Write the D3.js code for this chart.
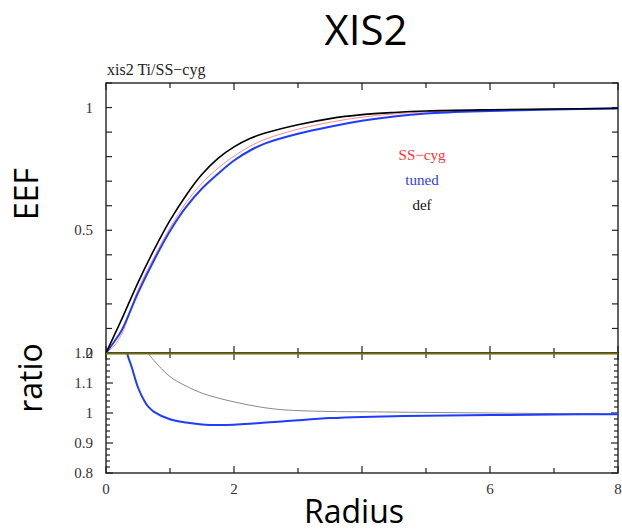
<!DOCTYPE html>
<html><head><meta charset="utf-8">
<script src="https://cdn.jsdelivr.net/npm/d3@7"></script>
<style>body{margin:0;background:#fff}svg{display:block}</style>
</head><body>
<svg id="c" width="622" height="532"></svg>
<script>
// ---- data ----
const radius   = [0,0.125,0.25,0.5,0.75,1,1.25,1.5,1.75,2,2.25,2.5,3,3.5,4,4.5,5,6,7,8];
const eefSSCyg = [0,0.028,0.08,0.258,0.39,0.51,0.612,0.692,0.753,0.802,0.842,0.872,0.912,0.94,0.961,0.974,0.982,0.99,0.993,0.996];
const eefTuned = [0,0.045,0.095,0.245,0.378,0.497,0.594,0.67,0.73,0.784,0.825,0.855,0.893,0.922,0.946,0.964,0.976,0.986,0.992,0.996];
const eefDef   = [0,0.07,0.14,0.287,0.42,0.54,0.642,0.728,0.793,0.84,0.874,0.897,0.93,0.955,0.971,0.98,0.986,0.991,0.994,0.997];
const ratioRadius = [0.25,0.33,0.4,0.5,0.6,0.66,0.75,1,1.25,1.5,1.75,2,2.25,2.5,2.75,3,3.5,4,5,6,7,8];
const ratioDef   = [1.6,1.45,1.38,1.29,1.23,1.2,1.175,1.121,1.09,1.066,1.05,1.037,1.026,1.017,1.011,1.008,1.005,1.004,1.002,1.0,0.998,0.997];
const ratioTuned = [1.35,1.2,1.154,1.085,1.04,1.021,1.004,0.979,0.968,0.962,0.96,0.961,0.964,0.968,0.972,0.976,0.983,0.987,0.991,0.993,0.995,0.996];
const xTickLabels = [0,2,6,8];
const eefTickLabels = [0.5,1];
const ratioTickLabels = [0.8,0.9,1,1.1,1.2];
const legendItems = ["SS\u2212cyg","tuned","def"];

// ---- layout ----
const svg = d3.select("#c");
const L = 106, R = 618, T = 83, M = 353, B = 473;
const x = d3.scaleLinear().domain([0,8]).range([L,R]);
const yE = d3.scaleLinear().domain([0,1.1]).range([M,T]);
const yR = d3.scaleLinear().domain([0.8,1.2]).range([B,M]);
const serif = "'Liberation Serif','DejaVu Serif',serif";
const sans = "'Open Sans','Noto Sans',sans-serif";

const defs = svg.append("defs");
defs.append("clipPath").attr("id","cu").append("rect").attr("x",L).attr("y",T).attr("width",R-L).attr("height",M-T);
defs.append("clipPath").attr("id","cl").append("rect").attr("x",L).attr("y",M).attr("width",R-L).attr("height",B-M);

// big slide labels
svg.append("text").attr("x",366).attr("y",45).attr("text-anchor","middle").attr("font-family",sans).attr("font-size",42).text("XIS2");
svg.append("text").attr("transform","translate(38,194) rotate(-90)").attr("text-anchor","middle").attr("font-family",sans).attr("font-size",32).text("EEF");
svg.append("text").attr("transform","translate(42,378) rotate(-90)").attr("text-anchor","middle").attr("font-family",sans).attr("font-size",32).text("ratio");
svg.append("text").attr("x",354).attr("y",523).attr("text-anchor","middle").attr("font-family",sans).attr("font-size",32).text("Radius");

// plot title
svg.append("text").attr("x",107).attr("y",75).attr("font-family",serif).attr("font-size",16).attr("fill","#222").text("xis2 Ti/SS\u2212cyg");

// ticks helper
const tk = svg.append("g").attr("stroke","#222").attr("stroke-width",1.2);
function vTicks(vals, scale, len){
  vals.forEach(v=>{
    const yy = scale(v);
    tk.append("line").attr("x1",L).attr("x2",L+len).attr("y1",yy).attr("y2",yy);
    tk.append("line").attr("x1",R).attr("x2",R-len).attr("y1",yy).attr("y2",yy);
  });
}
function hTicks(vals, yy, dir, len){
  vals.forEach(v=>{
    tk.append("line").attr("x1",x(v)).attr("x2",x(v)).attr("y1",yy).attr("y2",yy+dir*len);
  });
}
vTicks(d3.range(0,1.1001,0.1).map(v=>+v.toFixed(2)), yE, 6);
vTicks(d3.range(0.8,1.2001,0.02).map(v=>+v.toFixed(2)).filter(v=>Math.abs(v*10-Math.round(v*10))>1e-6), yR, 4);
vTicks([0.8,0.9,1,1.1,1.2], yR, 7);
const xMajor=[0,2,4,6,8], xMinor=[1,3,5,7];
hTicks(xMajor,T,1,7); hTicks(xMinor,T,1,5);
hTicks(xMajor,M,-1,7); hTicks(xMinor,M,-1,5);
hTicks(xMajor,M,1,7); hTicks(xMinor,M,1,5);
hTicks(xMajor,B,-1,7); hTicks(xMinor,B,-1,5);

// frames
svg.append("rect").attr("x",L).attr("y",T).attr("width",R-L).attr("height",M-T).attr("fill","none").attr("stroke","#222").attr("stroke-width",1.4);
svg.append("rect").attr("x",L).attr("y",M).attr("width",R-L).attr("height",B-M).attr("fill","none").attr("stroke","#222").attr("stroke-width",1.4);

// tick labels
const lab = svg.append("g").attr("font-family",serif).attr("font-size",15).attr("fill","#333");
eefTickLabels.forEach(v=>lab.append("text").attr("x",93).attr("y",yE(v)+5).attr("text-anchor","end").text(v));
lab.append("text").attr("x",93).attr("y",yE(0)+5).attr("text-anchor","end").text("0");
ratioTickLabels.forEach(v=>lab.append("text").attr("x",93).attr("y",yR(v)+5).attr("text-anchor","end").text(v.toFixed(v===1?0:1)));
xTickLabels.forEach(v=>lab.append("text").attr("x",x(v)).attr("y",494).attr("text-anchor","middle").text(v));

// curves
const lineE = d3.line().x(d=>x(d[0])).y(d=>yE(d[1])).curve(d3.curveCatmullRom.alpha(0.5));
const lineR = d3.line().x(d=>x(d[0])).y(d=>yR(d[1])).curve(d3.curveCatmullRom.alpha(0.5));
const up = svg.append("g").attr("clip-path","url(#cu)");
up.append("path").attr("d",lineE(d3.zip(radius,eefSSCyg))).attr("fill","none").attr("stroke","#ff8c8c").attr("stroke-width",1);
up.append("path").attr("d",lineE(d3.zip(radius,eefTuned))).attr("fill","none").attr("stroke","#1f3cff").attr("stroke-width",2);
up.append("path").attr("d",lineE(d3.zip(radius,eefDef))).attr("fill","none").attr("stroke","#000").attr("stroke-width",1.6);
const lo = svg.append("g").attr("clip-path","url(#cl)");
lo.append("path").attr("d",lineR(d3.zip(ratioRadius,ratioDef))).attr("fill","none").attr("stroke","#8a8a8a").attr("stroke-width",1);
lo.append("path").attr("d",lineR(d3.zip(ratioRadius,ratioTuned))).attr("fill","none").attr("stroke","#1f3cff").attr("stroke-width",2);
svg.append("line").attr("x1",L).attr("x2",R).attr("y1",M+0.5).attr("y2",M+0.5).attr("stroke","#6e6a10").attr("stroke-width",2);

// legend
const legColors = ["#ff3030","#2a3cff","#111"];
const legY = [160,185,210];
legendItems.forEach((t,i)=>svg.append("text").attr("x",422).attr("y",legY[i]).attr("text-anchor","middle").attr("font-family",serif).attr("font-size",15).attr("fill",legColors[i]).text(t));
</script>
</body></html>
